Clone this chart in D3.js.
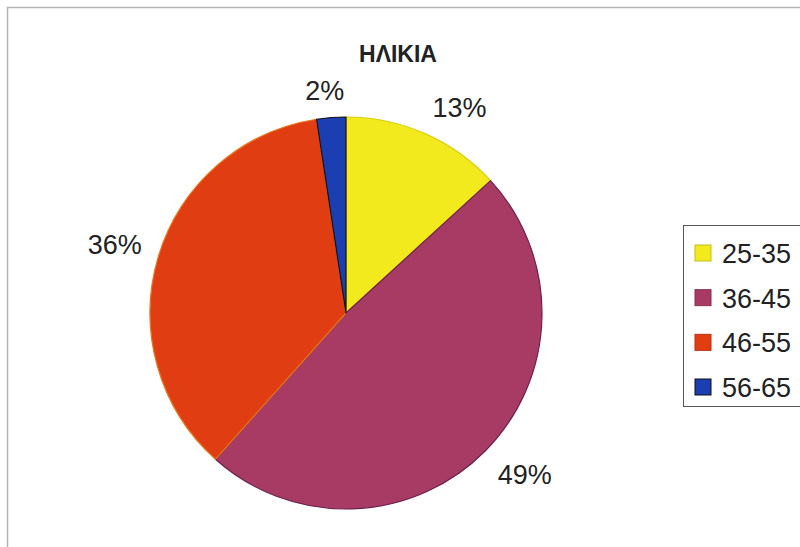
<!DOCTYPE html>
<head>
  <meta charset="utf-8">
  <script src="https://d3js.org/d3.v7.min.js"></script>
  <style>
    body { margin:0; background:#fff; }
    svg { display:block; }
    text { font-family: "Liberation Sans", Arial, sans-serif; fill:#222; }
  </style>
</head>
<body>
<script>
  // data (share of each age band, in %)
  var categories = ["25-35", "36-45", "46-55", "56-65"];
  var shares = [13.2, 48.4, 36.0, 2.4];
  var pctLabels = ["13%", "49%", "36%", "2%"];
  var colors = ["#f3ea1e", "#a73b63", "#e13d12", "#1b3fb3"];
  var edges = ["#d9cf10", "#6e2150", "#e8761c", "#111"];

  var width = 800, height = 547;
  var svg = d3.select("body").append("svg")
    .attr("width", width).attr("height", height);

  // chart frame (runs off the right and bottom of the picture)
  svg.append("rect")
    .attr("x", 7.5).attr("y", 7.5)
    .attr("width", 900).attr("height", 700)
    .attr("fill", "#fff")
    .attr("stroke", "#b4b4b4").attr("stroke-width", 1.5);

  svg.append("text")
    .attr("x", 398).attr("y", 62)
    .attr("text-anchor", "middle")
    .style("font-size", "23px").style("font-weight", "bold")
    .text("ΗΛΙΚΙΑ");

  var cx = 346, cy = 313, r = 196;
  var g = svg.append("g").attr("transform", "translate(" + cx + "," + cy + ")");

  var pie = d3.pie().sort(null).value(function(d) { return d; });
  var arcs = pie(shares);
  var arc = d3.arc().innerRadius(0).outerRadius(r);

  g.selectAll("path.slice")
    .data(arcs)
    .enter().append("path")
    .attr("class", "slice")
    .attr("d", arc)
    .attr("fill", function(d, i) { return colors[i]; })
    .attr("stroke", function(d, i) { return edges[i]; })
    .attr("stroke-width", 1.2)
    .attr("stroke-linejoin", "round");

  // labels sit outside the slice, box pushed away from the pie
  var labelR = r + 16, lw = 56, lh = 24;
  g.selectAll("text.pct")
    .data(arcs)
    .enter().append("text")
    .attr("class", "pct")
    .attr("text-anchor", "middle")
    .style("font-size", "27px")
    .attr("x", function(d) {
      var a = (d.startAngle + d.endAngle) / 2;
      var k = Math.max(-1, Math.min(1, Math.sin(a) * 2.5));
      return Math.sin(a) * labelR + k * lw / 2;
    })
    .attr("y", function(d) {
      var a = (d.startAngle + d.endAngle) / 2;
      var k = Math.max(-1, Math.min(1, Math.cos(a) * 2.5));
      return -Math.cos(a) * labelR - k * lh / 2 + 10;
    })
    .text(function(d, i) { return pctLabels[i]; });

  // legend
  var legend = svg.append("g");
  legend.append("rect")
    .attr("x", 683.5).attr("y", 225.5)
    .attr("width", 150).attr("height", 181)
    .attr("fill", "#fff")
    .attr("stroke", "#555").attr("stroke-width", 1);

  var ly = d3.scalePoint().domain(categories).range([253, 387]);

  var items = legend.selectAll("g.item")
    .data(categories)
    .enter().append("g")
    .attr("class", "item")
    .attr("transform", function(d) { return "translate(0," + ly(d) + ")"; });

  items.append("rect")
    .attr("x", 695).attr("y", -8)
    .attr("width", 16).attr("height", 16)
    .attr("fill", function(d, i) { return colors[i]; })
    .attr("stroke", function(d, i) { return i == 3 ? "#111" : d3.color(colors[i]).darker(0.6); })
    .attr("stroke-width", 1);

  items.append("text")
    .attr("x", 722).attr("y", 10)
    .style("font-size", "27px")
    .text(function(d) { return d; });
</script>
</body>
